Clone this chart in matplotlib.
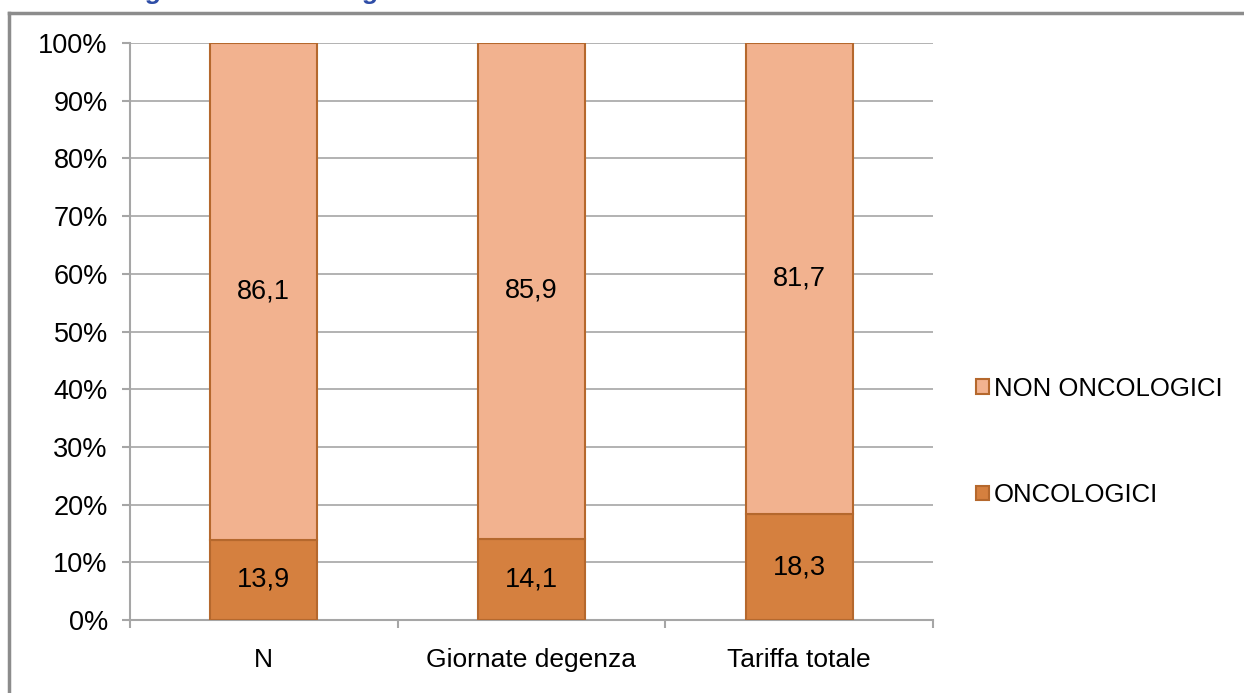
import matplotlib.pyplot as plt
from matplotlib.lines import Line2D

plt.rcParams["font.family"] = ["Liberation Sans", "DejaVu Sans"]

categories = ["N", "Giornate degenza", "Tariffa totale"]
oncologici = [13.9, 14.1, 18.3]
non_oncologici = [86.1, 85.9, 81.7]

c_dark = "#D5803F"
c_light = "#F2B28F"
c_edge = "#B5682D"

W, H = 1244, 693
fig = plt.figure(figsize=(W / 100, H / 100), dpi=100)
ax = fig.add_axes([130 / W, 1 - 620 / H, (933 - 130) / W, (620 - 43) / H])

x = range(len(categories))
ax.bar(x, oncologici, width=0.4, color=c_dark, edgecolor=c_edge, linewidth=1.5,
       label="ONCOLOGICI", zorder=3)
ax.bar(x, non_oncologici, width=0.4, bottom=oncologici, color=c_light,
       edgecolor=c_edge, linewidth=1.5, label="NON ONCOLOGICI", zorder=3)

for i in x:
    ax.text(i, oncologici[i] / 2, f"{oncologici[i]:.1f}".replace(".", ","),
            ha="center", va="center", fontsize=19.5, zorder=4)
    ax.text(i, oncologici[i] + non_oncologici[i] / 2,
            f"{non_oncologici[i]:.1f}".replace(".", ","),
            ha="center", va="center", fontsize=19.5, zorder=4)

ax.set_xlim(-0.5, 2.5)
ax.set_ylim(0, 100)
ax.set_yticks(range(0, 101, 10))
ax.set_yticklabels([f"{v}%" for v in range(0, 101, 10)], fontsize=19.5)
ax.set_xticks(list(x))
ax.set_xticklabels(categories, fontsize=19)
ax.set_xticks([-0.5, 0.5, 1.5, 2.5], minor=True)
ax.tick_params(axis="x", which="major", length=0, pad=20)
ax.tick_params(axis="x", which="minor", length=5.5, color="#A6A6A6", width=1.5)
ax.tick_params(axis="y", length=6, color="#A6A6A6", width=1.5, pad=10)
ax.grid(axis="y", color="#A6A6A6", linewidth=1.2, zorder=0)
for s in ["top", "right"]:
    ax.spines[s].set_visible(False)
for s in ["left", "bottom"]:
    ax.spines[s].set_color("#A6A6A6")
    ax.spines[s].set_linewidth(1.5)

handles, labels = ax.get_legend_handles_labels()
leg = fig.legend(handles[::-1], labels[::-1], loc="center left",
                 bbox_to_anchor=(953 / W, 1 - 442 / H), frameon=False,
                 fontsize=18.5, handlelength=0.5, handleheight=0.5,
                 handletextpad=0.2, labelspacing=3.2)

# outer chart frame (partly cut off in the reference)
fig.add_artist(Line2D([9 / W, 9 / W], [0, 1 - 13 / H], color="#8C8C8C", lw=2.5))
fig.add_artist(Line2D([9 / W, 1243 / W], [1 - 13 / H, 1 - 13 / H], color="#8C8C8C", lw=2.5))

# title cut off at the top edge, as in the reference
fig.text(60 / W, 1 + 1 / H, "oncologici e non oncologici", color="#2E4DA7",
         fontsize=19, fontweight="bold", fontstyle="italic", va="baseline")

plt.savefig("out.png", dpi=100)
plt.close()
